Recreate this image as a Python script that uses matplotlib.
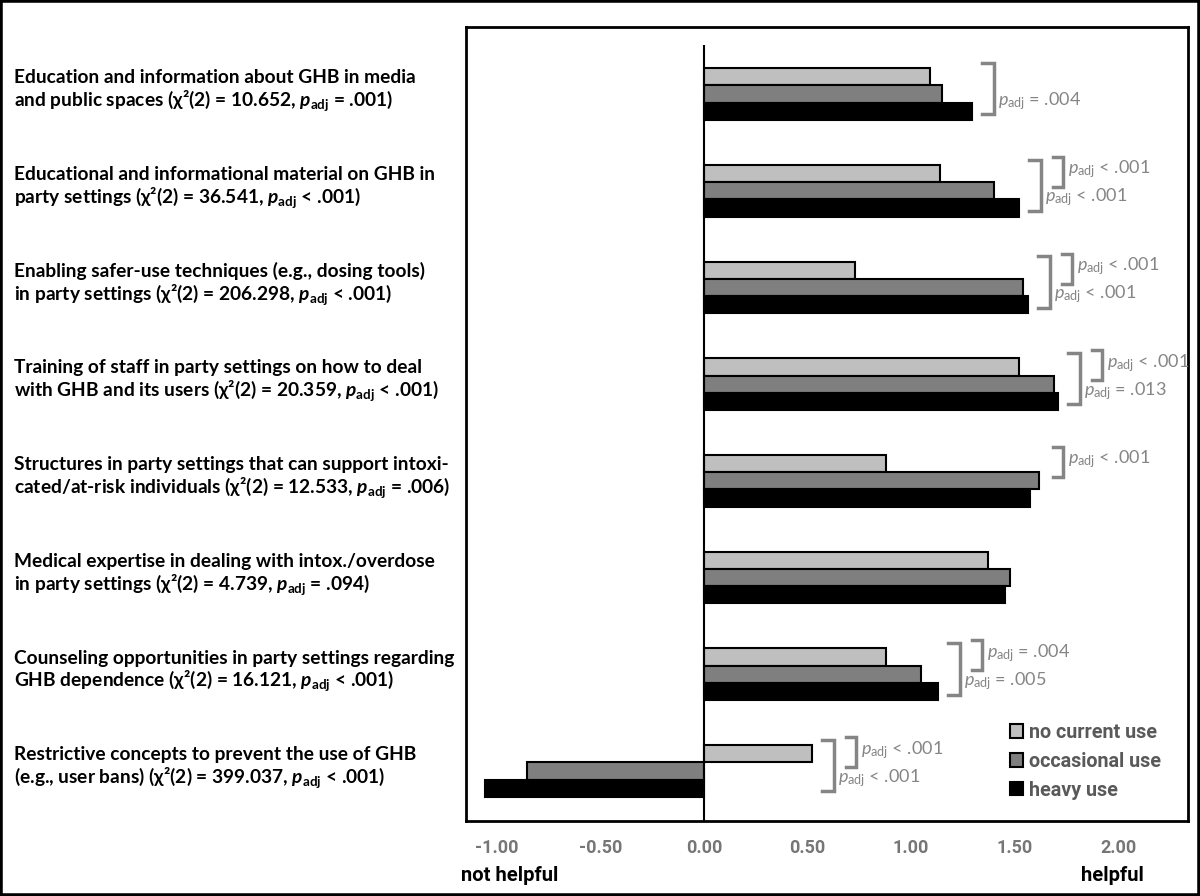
import numpy as np
import matplotlib.pyplot as plt
from matplotlib.patches import Rectangle
from matplotlib.transforms import blended_transform_factory
from matplotlib.ticker import FormatStrFormatter

plt.rcParams['mathtext.fontset'] = 'custom'
plt.rcParams['mathtext.rm'] = 'Lato'
plt.rcParams['mathtext.it'] = 'Lato:italic'
plt.rcParams['mathtext.bf'] = 'Lato:bold'
plt.rcParams['mathtext.bfit'] = 'Lato:italic:bold'
plt.rcParams['axes.unicode_minus'] = False

# --- data ---
measures = [
    "Education and information about GHB in media\nand public spaces",
    "Educational and informational material on GHB in\nparty settings",
    "Enabling safer-use techniques (e.g., dosing tools)\nin party settings",
    "Training of staff in party settings on how to deal\nwith GHB and its users",
    "Structures in party settings that can support intoxi-\ncated/at-risk individuals",
    "Medical expertise in dealing with intox./overdose\nin party settings",
    "Counseling opportunities in party settings regarding\nGHB dependence",
    "Restrictive concepts to prevent the use of GHB\n(e.g., user bans)",
]
chi2 = ["10.652", "36.541", "206.298", "20.359", "12.533", "4.739", "16.121", "399.037"]
p_overall = ["= .001", "< .001", "< .001", "< .001", "= .006", "= .094", "< .001", "< .001"]

groups = ["no current use", "occasional use", "heavy use"]
no_current = [1.09, 1.14, 0.73, 1.52, 0.88, 1.37, 0.88, 0.52]
occasional = [1.15, 1.40, 1.54, 1.69, 1.62, 1.48, 1.05, -0.855]
heavy = [1.295, 1.52, 1.565, 1.71, 1.575, 1.455, 1.13, -1.06]

# post-hoc tests: inner = no current vs occasional, outer = no current vs heavy
posthoc_inner = [None, "< .001", "< .001", "< .001", "< .001", None, "= .004", "< .001"]
posthoc_outer = ["= .004", "< .001", "< .001", "= .013", None, None, "= .005", "< .001"]

colors = ["#bfbfbf", "#7f7f7f", "#000000"]
gray = "#858585"

fig = plt.figure(figsize=(12, 8.96), dpi=100)
ax = fig.add_axes([466/1200, 1-821/896, (1188-466)/1200, (821-27)/896])

y = np.arange(len(measures))
h = 0.178
for k, vals in enumerate([no_current, occasional, heavy]):
    ax.barh(y + (k-1)*h, vals, height=h, color=colors[k], edgecolor="black",
            linewidth=1.5, label=groups[k], zorder=3)

ax.set_xlim(-1.150, 2.338)
ax.set_ylim(7.517, -0.693)
ax.vlines(0, -0.507, 7.517, color="black", lw=1.5, zorder=4)

ax.set_xticks(np.arange(-1.0, 2.01, 0.5))
ax.xaxis.set_major_formatter(FormatStrFormatter("%.2f"))
ax.tick_params(axis="x", length=0, pad=13, labelcolor="#767676")
for t in ax.get_xticklabels():
    t.set_fontfamily("Roboto"); t.set_fontweight("bold"); t.set_fontsize(13)
ax.set_yticks([])
for s in ax.spines.values():
    s.set_linewidth(2); s.set_color("black")

# category labels with test statistics
tr = blended_transform_factory(fig.transFigure, ax.transData)
for i, name in enumerate(measures):
    lbl = f"{name} (χ²(2) = {chi2[i]}, $\\mathbfit{{p}}_{{\\mathbf{{adj}}}}$ {p_overall[i]})"
    ax.text(14/1200, i - 0.03, lbl, transform=tr, ha="left", va="center",
            fontsize=13.8, fontfamily="Lato", fontweight="bold", linespacing=1.1)

# post-hoc brackets
px = 1/207
def plab(s):
    return f"$\\mathit{{p}}_{{\\mathrm{{adj}}}}$ {s}"

for i in range(len(measures)):
    xmax = max(no_current[i], occasional[i], heavy[i])
    inner, outer = posthoc_inner[i], posthoc_outer[i]
    if outer:
        x0 = xmax + 10*px
        y0, y1 = i - 0.32, i + 0.21
        ax.plot([x0, x0 + 12*px, x0 + 12*px, x0], [y0, y0, y1, y1], color=gray,
                lw=2.5, solid_joinstyle="miter", clip_on=False)
        ax.text(x0 + 16*px, i + 0.07, plab(outer), ha="left", va="center",
                color=gray, fontsize=13, fontfamily="Lato")
        xi = x0 + 24*px
    else:
        xi = xmax + 14*px
    if inner:
        y0, y1 = i - 0.35, i - 0.04
        ax.plot([xi, xi + 10*px, xi + 10*px, xi], [y0, y0, y1, y1], color=gray,
                lw=2.5, solid_joinstyle="miter", clip_on=False)
        ax.text(xi + 15*px, i - 0.22, plab(inner), ha="left", va="center",
                color=gray, fontsize=13, fontfamily="Lato")

leg = ax.legend(loc="upper left", bbox_to_anchor=(1010/1200, 1-723/896),
                bbox_transform=fig.transFigure, frameon=False, borderpad=0,
                borderaxespad=0, handlelength=0.66, handleheight=0.66,
                handletextpad=0.3, labelspacing=0.5,
                prop={"family": "Roboto", "weight": "bold", "size": 14.2})
for t in leg.get_texts():
    t.set_color("#595959")

fig.text(461/1200, 1-875/896, "not helpful", ha="left", va="center",
         fontfamily="Roboto", fontweight="bold", fontsize=14.5)
fig.text(1144/1200, 1-875/896, "helpful", ha="right", va="center",
         fontfamily="Roboto", fontweight="bold", fontsize=14.5)

fig.patches.append(Rectangle((0, 0), 1, 1, transform=fig.transFigure, fill=False,
                             ec="black", lw=4))

fig.savefig("out.png", dpi=100)
